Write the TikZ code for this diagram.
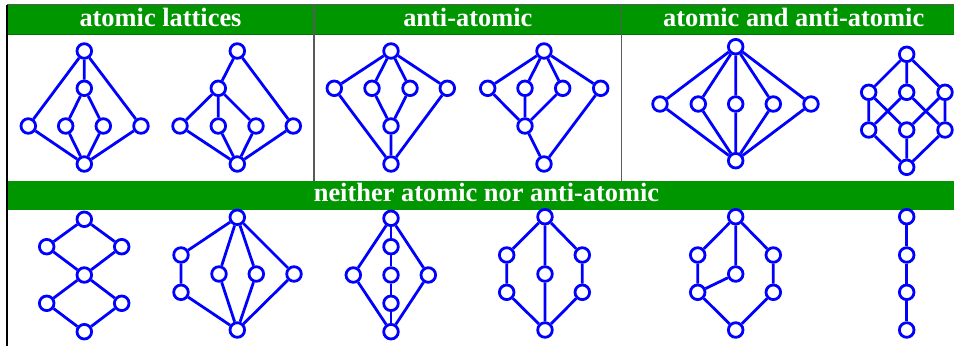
\documentclass[tikz,border=0pt]{standalone}
\usepackage{fontspec}
\setmainfont{Liberation Serif}
\definecolor{hdrgreen}{RGB}{0,150,0}
\definecolor{rulegray}{RGB}{90,90,90}
\begin{document}
\begin{tikzpicture}[x=1pt, y=-1pt,
  el/.style={circle, draw=blue, fill=white, line width=2.8pt, minimum size=14.6pt, inner sep=0pt},
  ed/.style={draw=blue, line width=2.8pt},
  hdr/.style={anchor=base, text=white, font=\bfseries\fontsize{26.4}{30}\selectfont}]
\useasboundingbox (0,0) rectangle (954,346);
\clip (0,0) rectangle (954,346);
\fill[hdrgreen] (7,4.5) rectangle (966,35);
\fill[hdrgreen] (7,180.5) rectangle (966,209.5);
\draw[green!45!black, line width=0.8pt] (7,34.6) -- (966,34.6);
\draw[rulegray, line width=1.2pt] (7,4.5) -- (966,4.5);
\draw[rulegray, line width=1.2pt] (314,4.5) -- (314,180.5);
\draw[rulegray, line width=1.2pt] (621.5,4.5) -- (621.5,180.5);
\draw[black, line width=1.2pt] (7,4.5) -- (7,346);
\node[hdr] (h1) at (160.5,26.5) {atomic lattices};
\node[hdr] (h2) at (467.8,26.5) {anti-atomic};
\node[hdr] (h3) at (793.7,26.5) {atomic and anti-atomic};
\node[hdr] (h4) at (486.5,201.5) {neither atomic nor anti-atomic};

\begin{scope}[name prefix=ga-]
\node[el] (t) at (84.3,51) {};
\node[el] (m) at (84.3,88.3) {};
\node[el] (a1) at (28.3,126) {};
\node[el] (a2) at (65.7,126) {};
\node[el] (a3) at (103.3,126) {};
\node[el] (a4) at (141,126) {};
\node[el] (b) at (84.3,164) {};
\draw[ed] (t) -- (a1) (t) -- (m) (t) -- (a4) (m) -- (a2) (m) -- (a3);
\draw[ed] (b) -- (a1) (b) -- (a2) (b) -- (a3) (b) -- (a4);
\end{scope}

\begin{scope}[name prefix=gb-]
\node[el] (t) at (237.3,51) {};
\node[el] (m) at (218.3,88.3) {};
\node[el] (a1) at (180,126) {};
\node[el] (a2) at (218.3,126) {};
\node[el] (a3) at (256,126) {};
\node[el] (a4) at (293.3,126) {};
\node[el] (b) at (237.3,164) {};
\draw[ed] (t) -- (m) (t) -- (a4) (m) -- (a1) (m) -- (a2) (m) -- (a3);
\draw[ed] (b) -- (a1) (b) -- (a2) (b) -- (a3) (b) -- (a4);
\end{scope}

\begin{scope}[name prefix=gc-]
\node[el] (t) at (391,51) {};
\node[el] (c1) at (334.3,88.3) {};
\node[el] (c2) at (372,88.3) {};
\node[el] (c3) at (410,88.3) {};
\node[el] (c4) at (447.3,88.3) {};
\node[el] (m) at (391,126) {};
\node[el] (b) at (391,164) {};
\draw[ed] (t) -- (c1) (t) -- (c2) (t) -- (c3) (t) -- (c4);
\draw[ed] (c2) -- (m) (c3) -- (m) (m) -- (b) (c1) -- (b) (c4) -- (b);
\end{scope}

\begin{scope}[name prefix=gd-]
\node[el] (t) at (544,51) {};
\node[el] (c1) at (487.7,88.3) {};
\node[el] (c2) at (525,88.3) {};
\node[el] (c3) at (562.7,88.3) {};
\node[el] (c4) at (600.7,88.3) {};
\node[el] (m) at (525,126) {};
\node[el] (b) at (544,164) {};
\draw[ed] (t) -- (c1) (t) -- (c2) (t) -- (c3) (t) -- (c4);
\draw[ed] (c1) -- (m) (c2) -- (m) (c3) -- (m) (m) -- (b) (c4) -- (b);
\end{scope}

\begin{scope}[name prefix=ge-]
\node[el] (t) at (735.7,46.7) {};
\node[el] (a1) at (660,104) {};
\node[el] (a2) at (698.3,104) {};
\node[el] (a3) at (735.7,104) {};
\node[el] (a4) at (773.3,104) {};
\node[el] (a5) at (811,104) {};
\node[el] (b) at (735.7,160.7) {};
\draw[ed] (t) -- (a1) (t) -- (a2) (t) -- (a3) (t) -- (a4) (t) -- (a5);
\draw[ed] (b) -- (a1) (b) -- (a2) (b) -- (a3) (b) -- (a4) (b) -- (a5);
\end{scope}

\begin{scope}[name prefix=gf-]
\node[el] (t) at (906.7,54.3) {};
\node[el] (u1) at (868.7,92.3) {};
\node[el] (u2) at (906.7,92.3) {};
\node[el] (u3) at (945,92.3) {};
\node[el] (l1) at (868.7,130) {};
\node[el] (l2) at (906.7,130) {};
\node[el] (l3) at (945,130) {};
\node[el] (b) at (906.7,167.3) {};
\draw[ed] (t) -- (u1) (t) -- (u2) (t) -- (u3);
\draw[ed] (u1) -- (l1) (u1) -- (l2) (u2) -- (l1) (u2) -- (l3) (u3) -- (l2) (u3) -- (l3);
\draw[ed] (b) -- (l1) (b) -- (l2) (b) -- (l3);
\end{scope}

\begin{scope}[name prefix=gg-]
\node[el] (t) at (84.3,219.3) {};
\node[el] (l1) at (46.7,246.7) {};
\node[el] (r1) at (121.7,246.7) {};
\node[el] (m) at (84.3,275) {};
\node[el] (l2) at (46.7,303.3) {};
\node[el] (r2) at (121.7,303.3) {};
\node[el] (b) at (84.3,331.7) {};
\draw[ed] (t) -- (l1) (t) -- (r1) (l1) -- (m) (r1) -- (m);
\draw[ed] (m) -- (l2) (m) -- (r2) (l2) -- (b) (r2) -- (b);
\end{scope}

\begin{scope}[name prefix=gh-]
\node[el] (t) at (237.3,217.3) {};
\node[el] (l1) at (181,255) {};
\node[el] (l2) at (181,292.3) {};
\node[el] (i1) at (219,274) {};
\node[el] (i2) at (256.3,274) {};
\node[el] (r) at (294,274) {};
\node[el] (b) at (237.3,330) {};
\draw[ed] (t) -- (l1) (l1) -- (l2) (l2) -- (b);
\draw[ed] (t) -- (i1) (t) -- (i2) (i1) -- (b) (i2) -- (b) (t) -- (r) (r) -- (b);
\end{scope}

\begin{scope}[name prefix=gi-]
\node[el] (t) at (391,218.3) {};
\node[el] (c1) at (391,246.7) {};
\node[el] (c2) at (391,275) {};
\node[el] (c3) at (391,303.3) {};
\node[el] (l) at (353.3,275) {};
\node[el] (r) at (428.3,275) {};
\node[el] (b) at (391,331.7) {};
\draw[ed] (t) -- (c1) (c1) -- (c2) (c2) -- (c3) (c3) -- (b);
\draw[ed] (t) -- (l) (l) -- (b) (t) -- (r) (r) -- (b);
\end{scope}

\begin{scope}[name prefix=gj-]
\node[el] (t) at (545,216.7) {};
\node[el] (l1) at (506.7,255) {};
\node[el] (l2) at (506.7,292.3) {};
\node[el] (m) at (545,274) {};
\node[el] (r1) at (582.3,255) {};
\node[el] (r2) at (582.3,292.3) {};
\node[el] (b) at (545,330) {};
\draw[ed] (t) -- (l1) (l1) -- (l2) (l2) -- (b) (t) -- (m) (m) -- (b);
\draw[ed] (t) -- (r1) (r1) -- (r2) (r2) -- (b);
\end{scope}

\begin{scope}[name prefix=gk-]
\node[el] (t) at (735.7,216.7) {};
\node[el] (l1) at (697.7,255) {};
\node[el] (l2) at (697.7,292.3) {};
\node[el] (m) at (735.7,274) {};
\node[el] (r1) at (773.3,255) {};
\node[el] (r2) at (773.3,292.3) {};
\node[el] (b) at (735.7,330) {};
\draw[ed] (t) -- (l1) (l1) -- (l2) (l2) -- (b) (t) -- (m) (m) -- (l2);
\draw[ed] (t) -- (r1) (r1) -- (r2) (r2) -- (b);
\end{scope}

\begin{scope}[name prefix=gl-]
\node[el] (c1) at (906.7,216.7) {};
\node[el] (c2) at (906.7,255) {};
\node[el] (c3) at (906.7,292.3) {};
\node[el] (c4) at (906.7,330) {};
\draw[ed] (c1) -- (c2) (c2) -- (c3) (c3) -- (c4);
\end{scope}
\end{tikzpicture}
\end{document}
